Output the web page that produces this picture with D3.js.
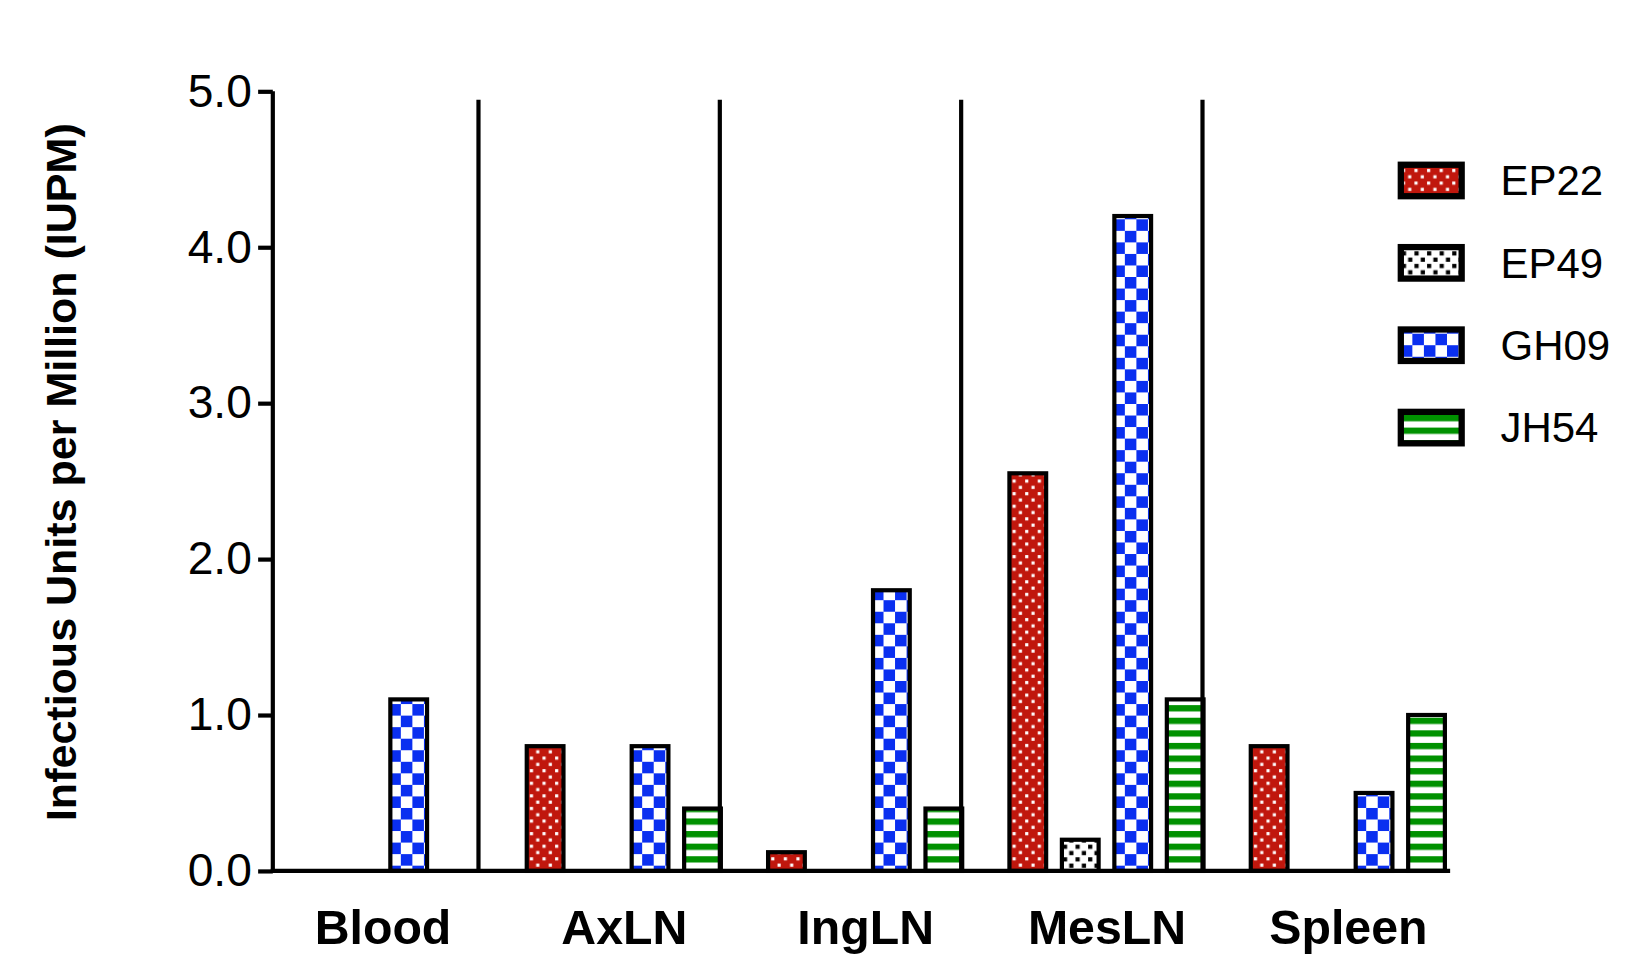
<!DOCTYPE html>
<html>
<head>
<meta charset="utf-8">
<script src="https://cdn.jsdelivr.net/npm/d3@7"></script>
<style>
  body { margin: 0; background: #fff; }
  text { font-family: Arial, "Liberation Sans", sans-serif; }
</style>
</head>
<body>
<svg id="chart" width="1647" height="978"></svg>
<script>
const tissues = ['Blood', 'AxLN', 'IngLN', 'MesLN', 'Spleen']
const strains = ['EP22', 'EP49', 'GH09', 'JH54']
const ep22 = [0, 0.8, 0.12, 2.55, 0.8]
const ep49 = [0, 0, 0, 0.2, 0]
const gh09 = [1.1, 0.8, 1.8, 4.2, 0.5]
const jh54 = [0, 0.4, 0.4, 1.1, 1.0]
const yTicks = [0, 1, 2, 3, 4, 5]

const seriesValues = { EP22: ep22, EP49: ep49, GH09: gh09, JH54: jh54 }

const root = d3.select('#chart')
const defs = root.append('defs')
const svg = root.append('g').attr('transform', 'scale(1.0493)')

// fill patterns
function pat (id, size, draw) {
  const p = defs.append('pattern').attr('id', id)
    .attr('patternUnits', 'userSpaceOnUse').attr('width', size).attr('height', size)
  draw(p)
}
pat('p-EP22', 12, p => {
  p.append('rect').attr('width', 12).attr('height', 12).attr('fill', '#c0170d')
  p.append('rect').attr('x', 1).attr('y', 1).attr('width', 3).attr('height', 3).attr('fill', '#fff')
  p.append('rect').attr('x', 7).attr('y', 7).attr('width', 3).attr('height', 3).attr('fill', '#fff')
})
pat('p-EP49', 12, p => {
  p.append('rect').attr('width', 12).attr('height', 12).attr('fill', '#fff')
  p.append('rect').attr('x', 1).attr('y', 1).attr('width', 4).attr('height', 4).attr('fill', '#000')
  p.append('rect').attr('x', 7).attr('y', 7).attr('width', 4).attr('height', 4).attr('fill', '#000')
})
pat('p-GH09', 22, p => {
  p.append('rect').attr('width', 22).attr('height', 22).attr('fill', '#fff')
  p.append('rect').attr('width', 11).attr('height', 11).attr('fill', '#0a2ff0')
  p.append('rect').attr('x', 11).attr('y', 11).attr('width', 11).attr('height', 11).attr('fill', '#0a2ff0')
})
pat('p-JH54', 12, p => {
  p.append('rect').attr('width', 12).attr('height', 12).attr('fill', '#fff')
  p.append('rect').attr('y', 0).attr('width', 12).attr('height', 6).attr('fill', '#009100')
})

const y = d3.scaleLinear().domain([0, 5]).range([830, 87])
const x0 = d3.scaleBand().domain(tissues).range([250, 1400])
const x1 = d3.scaleBand().domain(strains).range([14.5, 214.5]).paddingInner(0.3).paddingOuter(0.15)

// bars
tissues.forEach((t, i) => {
  const g = svg.append('g').attr('transform', `translate(${x0(t)},0)`)
  const rows = strains.map(s => ({ s, v: seriesValues[s][i] })).filter(d => d.v > 0)
  g.selectAll('rect').data(rows).enter().append('rect')
    .attr('x', d => x1(d.s))
    .attr('y', d => y(d.v))
    .attr('width', x1.bandwidth())
    .attr('height', d => y(0) - y(d.v))
    .attr('fill', d => `url(#p-${d.s})`)
    .attr('stroke', '#000').attr('stroke-width', 4)
})

// separators
svg.selectAll('.sep').data(tissues.slice(1)).enter().append('line')
  .attr('x1', d => x0(d) - 24).attr('x2', d => x0(d) - 24)
  .attr('y1', 95).attr('y2', 830)
  .attr('stroke', '#000').attr('stroke-width', 4)

// y axis
const yAxis = svg.append('g').attr('transform', 'translate(260,0)')
  .call(d3.axisLeft(y).tickValues(yTicks).tickFormat(d3.format('.1f')).tickSize(14).tickPadding(6))
yAxis.select('.domain').attr('stroke-width', 4).attr('d', `M0,${y(5)}V${y(0)}`)
yAxis.selectAll('.tick line').attr('stroke-width', 4)
yAxis.selectAll('.tick text').attr('font-size', 44).attr('fill', '#000')

// x axis line
svg.append('line').attr('x1', 258).attr('x2', 1382).attr('y1', y(0)).attr('y2', y(0))
  .attr('stroke', '#000').attr('stroke-width', 4)

svg.selectAll('.cat').data(tissues).enter().append('text')
  .attr('x', d => x0(d) + x0.bandwidth() / 2)
  .attr('y', 900)
  .attr('text-anchor', 'middle')
  .attr('font-size', 46).attr('font-weight', 'bold')
  .text(d => d)

svg.append('text')
  .attr('transform', 'translate(72,450) rotate(-90)')
  .attr('text-anchor', 'middle')
  .attr('font-size', 41).attr('font-weight', 'bold')
  .text('Infectious Units per Million (IUPM)')

// legend
const leg = svg.selectAll('.leg').data(strains).enter().append('g')
  .attr('transform', (d, i) => `translate(1335,${172 + i * 78.5})`)
leg.append('rect').attr('x', 0).attr('y', -15).attr('width', 58).attr('height', 30)
  .attr('fill', d => `url(#p-${d})`).attr('stroke', '#000').attr('stroke-width', 6)
leg.append('text').attr('x', 95).attr('y', 14).attr('font-size', 40).text(d => d)
</script>
</body>
</html>
